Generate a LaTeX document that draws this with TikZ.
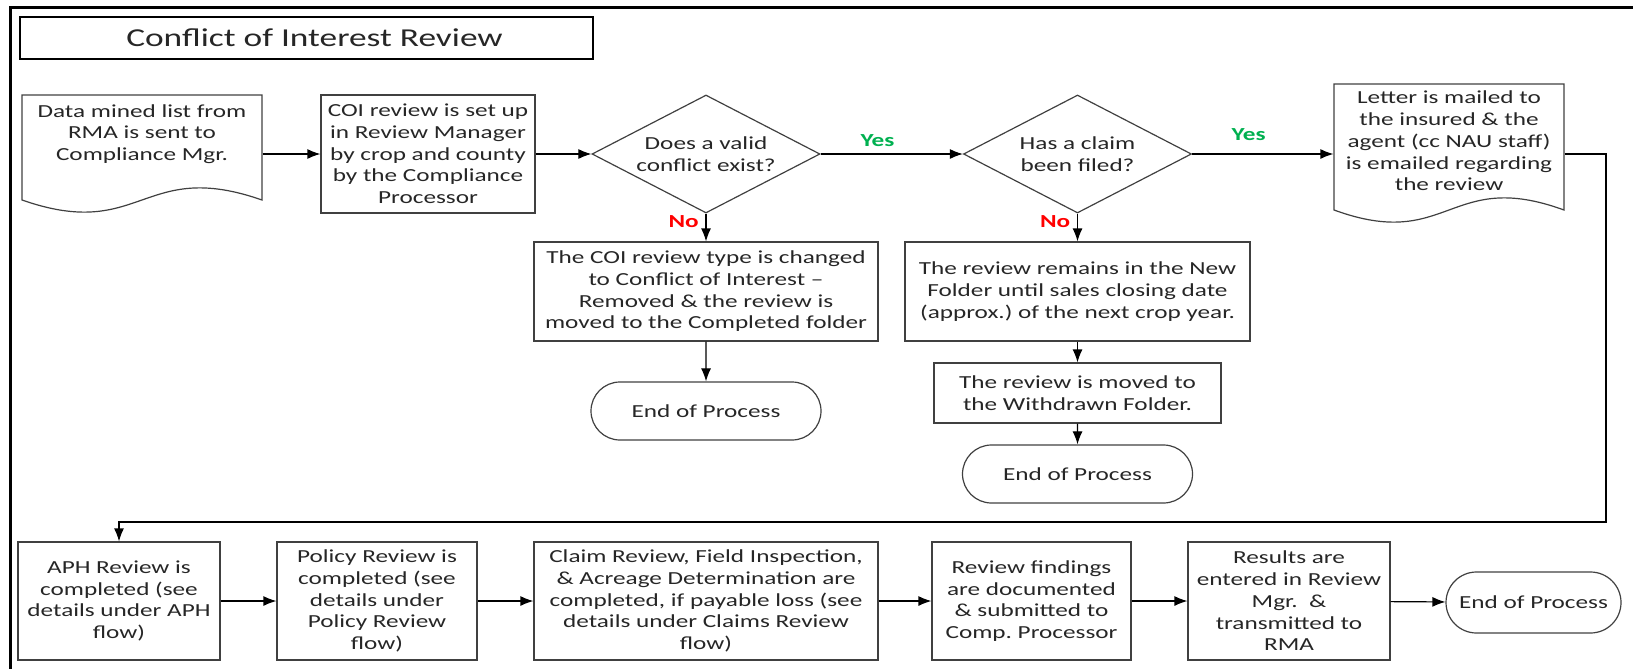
\documentclass[tikz,border=0pt]{standalone}
\usepackage{fontspec}
\setmainfont{Carlito}[FakeStretch=1.37]
\usepackage{tikz}
\usepackage{xcolor}
\usetikzlibrary{arrows,arrows.meta}
\usetikzlibrary{shapes,backgrounds}
\frenchspacing

\definecolor{yescol}{RGB}{0,176,80}
\definecolor{nocol}{RGB}{255,0,0}
\definecolor{edgecol}{RGB}{64,64,64}

\begin{document}
\begin{tikzpicture}[>={Latex[length=6.5pt,width=5pt]},x=0.5pt,y=-0.5pt,line width=0.6pt,
    every node/.style={font=\fontsize{9.2}{10.85}\selectfont,text=black!85},
    box node/.style={rectangle,draw=edgecol,align=center,inner sep=0pt},
    doc node/.style={rectangle,align=center,inner sep=0pt},
    dec node/.style={diamond,draw=edgecol,align=center,inner sep=0pt,aspect=1.93,
                     minimum width=114pt,minimum height=59pt},
    end node/.style={rounded rectangle,draw=edgecol,inner sep=0pt,
                     minimum width=115pt,minimum height=29pt}]

  \useasboundingbox (0,0) rectangle (1633,669);
  \draw[line width=1.5pt] (10,669) -- (10,7) -- (1633,7);

  \node[box node,draw=black,line width=1.2pt,minimum width=286.5pt,minimum height=21pt,
        font=\fontsize{12.9}{15}\selectfont] (0) at (306.5,38) {\hspace*{8pt}Conflict of Interest Review};

  % top row
  \draw[draw=edgecol] (22,95) -- (262,95) -- (262,200) .. controls (142,158) and (142,242) .. (22,200) -- cycle;
  \node[doc node,minimum width=120pt,minimum height=39pt] (1) at (142,134) {Data mined list from\\RMA is sent to\\Compliance Mgr.};
  \node[box node,minimum width=107pt,minimum height=59pt] (2) at (428,154) {COI review is set up\\in Review Manager\\by crop and county\\by the Compliance\\Processor};
  \node[dec node] (3) at (706,154) {Does a valid\\conflict exist?};
  \node[dec node] (4) at (1077.5,154) {Has a claim\\been filed?};
  \draw[draw=edgecol] (1334,84) -- (1564,84) -- (1564,210) .. controls (1449,168) and (1449,252) .. (1334,210) -- cycle;
  \node[doc node,minimum width=115pt,minimum height=57pt] (5) at (1449,141) {Letter is mailed to\\the insured \& the\\agent (cc NAU staff)\\is emailed regarding\\the review};

  % No branches
  \node[box node,minimum width=172pt,minimum height=49.5pt] (6) at (706,291.5) {The COI review type is changed\\to Conflict of Interest --\\Removed \& the review is\\moved to the Completed folder};
  \node[end node] (7) at (706,411) {End of Process};
  \node[box node,minimum width=172.5pt,minimum height=49.5pt] (8) at (1077.5,291.5) {The review remains in the New\\Folder until sales closing date\\(approx.) of the next crop year.};
  \node[box node,minimum width=143.5pt,minimum height=30pt] (9) at (1077.5,393) {The review is moved to\\the Withdrawn Folder.};
  \node[end node] (10) at (1077.5,474) {End of Process};

  % bottom row
  \node[box node,minimum width=101pt,minimum height=59pt] (11) at (119,601) {APH Review is\\completed (see\\details under APH\\flow)};
  \node[box node,minimum width=100pt,minimum height=59pt] (12) at (377,601) {Policy Review is\\completed (see\\details under\\Policy Review\\flow)};
  \node[box node,minimum width=172pt,minimum height=59pt] (13) at (706,601) {Claim Review, Field Inspection,\\\& Acreage Determination are\\completed, if payable loss (see\\details under Claims Review\\flow)};
  \node[box node,minimum width=99.5pt,minimum height=59pt] (14) at (1031.5,601) {Review findings\\are documented\\\& submitted to\\Comp. Processor};
  \node[box node,minimum width=101pt,minimum height=59pt] (15) at (1289,601) {Results are\\entered in Review\\Mgr.~~\&\\transmitted to\\RMA};
  \node[end node,minimum width=87.5pt,minimum height=30.5pt] (16) at (1533.5,602.5) {End of Process};

  \coordinate (c1) at (1606,522);

  \path[->,every node/.style={font=\fontsize{9.2}{10.85}\selectfont\bfseries}]
    (1.east |- 2) edge (2)
    (2) edge (3)
    (3) edge node[above,pos=0.4,text=yescol] (y1) {Yes} (4)
        edge node[left,pos=0.3,text=nocol] (n1) {No} (6)
    (4) edge node[above,pos=0.4,yshift=3pt,text=yescol] (y2) {Yes} (5.west |- 4)
        edge node[left,pos=0.3,text=nocol] (n2) {No} (8)
    (6) edge (7)
    (8) edge (9)
    (9) edge (10)
    (11) edge (12)
    (12) edge (13)
    (13) edge (14)
    (14) edge (15)
    (15) edge (16)
    ;
  \draw[->] (5.east |- 4) -| (c1) -| (11);
\end{tikzpicture}
\end{document}
